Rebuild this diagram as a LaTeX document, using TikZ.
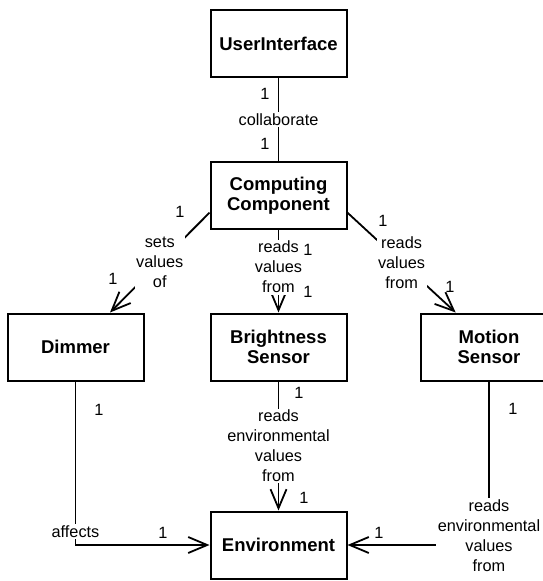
\documentclass[tikz,border=0pt]{standalone}
\usepackage{fontspec}
\setmainfont{Liberation Sans}
\usetikzlibrary{arrows.meta}
\begin{document}
\begin{tikzpicture}[x=1pt,y=-1pt,
  cls/.style={draw, line width=2pt, minimum width=136pt, minimum height=67pt, align=center, font=\fontsize{18.5}{20}\selectfont\bfseries, inner sep=0pt},
  conn/.style={line width=1.8pt},
  nav/.style={conn, -{Straight Barb[length=19pt,width=16pt]}},
  lbl/.style={fill=white, align=center, font=\fontsize{16.3}{20}\selectfont, inner sep=1.5pt},
  mult/.style={font=\fontsize{16.3}{20}\selectfont, inner sep=0pt}
]
\useasboundingbox (0,0) rectangle (543,581);

\node[cls] (ui) at (278.5,43.5) {UserInterface};
\node[cls] (cc) at (278.5,195.5) {Computing\\Component};
\node[cls] (dim) at (75.5,347) {Dimmer};
\node[cls] (bs) at (278.5,347) {Brightness\\Sensor};
\node[cls] (ms) at (489,347) {Motion\\Sensor};
\node[cls] (env) at (278.5,545) {Environment};

\draw[conn] (ui) -- (cc) node[lbl, midway] {collaborate};
\draw[nav] (cc.194) -- (dim.45) node[lbl, midway] {sets\\values\\of};
\draw[nav] (cc) -- (bs) node[lbl, pos=0.45] {reads\\values\\from};
\draw[nav] (cc.346) -- (ms.134) node[lbl, midway] {reads\\values\\from};
\draw[nav] (bs) -- (env) node[lbl, midway] {reads\\environmental\\values\\from};
\draw[nav] (dim) |- (env) node[lbl, pos=0.458] {affects};
\draw[nav] (ms) |- (env) node[lbl, pos=0.47] {reads\\environmental\\values\\from};

\node[mult] (m1) at (265,94) {1};
\node[mult] (m2) at (265,144) {1};
\node[mult] (m3) at (180,212) {1};
\node[mult] (m4) at (113,279) {1};
\node[mult] (m5) at (308,250) {1};
\node[mult] (m6) at (308,292) {1};
\node[mult] (m7) at (383,221) {1};
\node[mult] (m8) at (450,287) {1};
\node[mult] (m9) at (99,410) {1};
\node[mult] (m10) at (163,533) {1};
\node[mult] (m11) at (299,393) {1};
\node[mult] (m12) at (304,498) {1};
\node[mult] (m13) at (513,409) {1};
\node[mult] (m14) at (379,533) {1};
\end{tikzpicture}
\end{document}
